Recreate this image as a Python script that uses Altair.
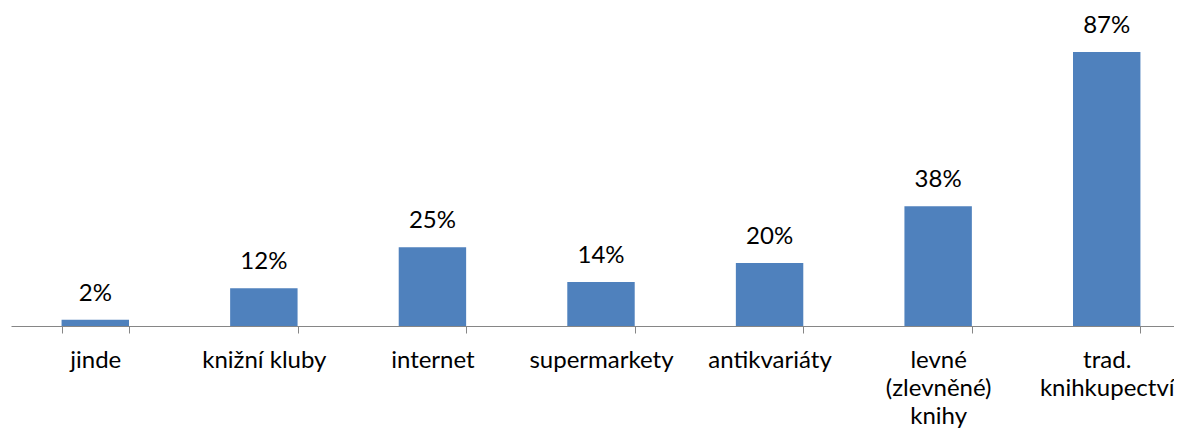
import altair as alt
import pandas as pd

categories = ["jinde", "knižní kluby", "internet", "supermarkety", "antikvariáty",
              "levné\n(zlevněné)\nknihy", "trad.\nknihkupectví"]
values = [2, 12, 25, 14, 20, 38, 87]

df = pd.DataFrame({"cat": categories, "val": values, "label": [f"{v}%" for v in values]})

FONT = "Lato"

x = alt.X("cat:N", sort=categories,
          scale=alt.Scale(range=[0, 1180], paddingInner=0.6, paddingOuter=0.3),
          axis=alt.Axis(title=None, labelAngle=0, labelFont=FONT, labelFontSize=24,
                        labelColor="black", labelLineHeight=28, labelPadding=34,
                        labelExpr="datum.value ? split(datum.value, '\\n') : ''",
                        labelBaseline="alphabetic",
                        tickSize=7, tickColor="#868686", domainColor="#868686",
                        tickBand="extent", labelFlush=False, labelOverlap=False,
                        labelLimit=0))
y = alt.Y("val:Q", scale=alt.Scale(domain=[0, 100]), axis=None)

bars = alt.Chart(df).mark_bar(color="#4F81BD").encode(x=x, y=y)
text = alt.Chart(df).mark_text(dy=-19, baseline="alphabetic", font=FONT, fontSize=24,
                               color="black").encode(x=x, y=y, text="label:N")

chart = (bars + text).properties(
    width=1163, height=315,
    padding={"left": 3, "top": 3, "right": 0, "bottom": 103},
    autosize=alt.AutoSizeParams(type="none"),
).configure(background="white").configure_view(stroke=None)

chart.save("out.html", embed_options={"renderer": "svg", "actions": False})
